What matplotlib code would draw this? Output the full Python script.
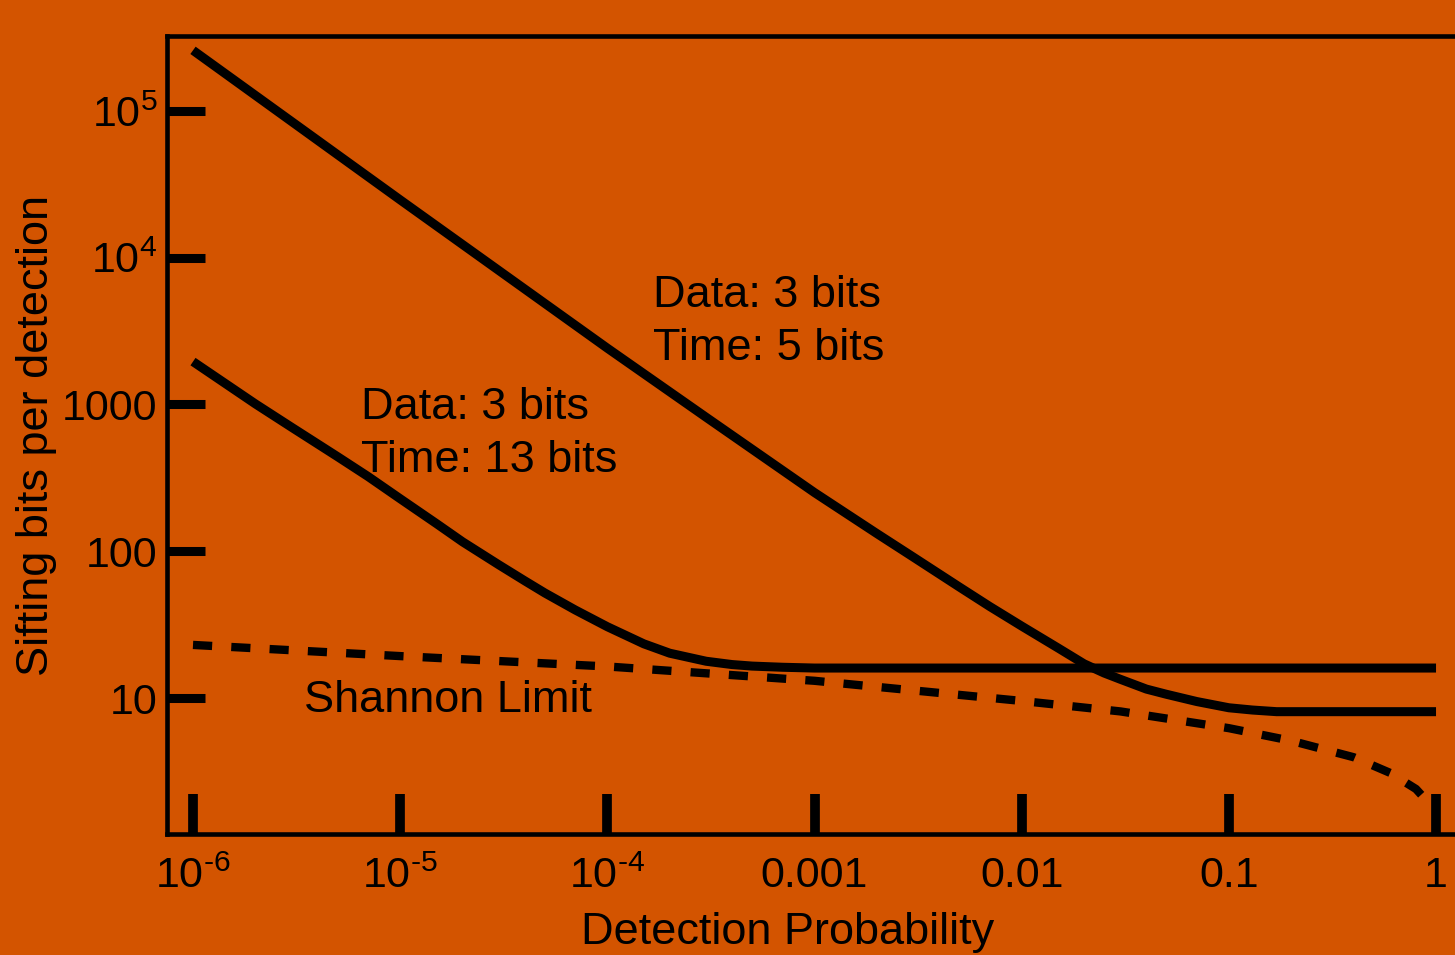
import matplotlib
matplotlib.use("Agg")
import matplotlib.pyplot as plt
from matplotlib.ticker import NullLocator

# values (log-log)
p_time5 = [1e-6, 1e-5, 1e-4, 3e-4, 1e-3, 2e-3, 3e-3, 5e-3, 7e-3, 1e-2,
           1.5e-2, 2e-2, 2.5e-2, 3e-2, 4e-2, 5e-2, 7e-2, 0.1, 0.13, 0.17, 0.25, 1.0]
bits_time5 = [259000, 24800, 2420, 818, 251, 132, 91.2, 57.1, 42.1, 30.9,
              21.9, 17.1, 14.8, 13.4, 11.5, 10.6, 9.46, 8.58, 8.28, 8.07, 8.07, 8.07]

p_time13 = [1e-6, 2e-6, 3e-6, 5e-6, 7e-6, 1e-5, 1.5e-5, 2e-5, 3e-5, 4e-5,
            5e-5, 7e-5, 1e-4, 1.5e-4, 2e-4, 3e-4, 4e-4, 5e-4, 7e-4, 1e-3, 1.0]
bits_time13 = [1960, 1010, 698, 440, 323, 228, 154, 116, 80.7, 62.8,
               51.9, 39.8, 30.6, 23.4, 20.2, 17.8, 16.9, 16.5, 16.2, 16.0, 16.0]

p_shannon = [1e-6, 1e-5, 1e-4, 1e-3, 1e-2, 3e-2, 0.1, 0.2, 0.4, 0.6, 0.8, 0.9, 1.0]
bits_shannon = [23.0, 19.3, 16.4, 13.1, 9.55, 8.1, 6.23, 5.11, 3.95, 3.09, 2.40, 2.0, 1.75]

x_ticks = [1e-6, 1e-5, 1e-4, 1e-3, 1e-2, 0.1, 1]
x_tick_labels = [r"$\mathregular{10^{\text{-6}}}$", r"$\mathregular{10^{\text{-5}}}$",
                 r"$\mathregular{10^{\text{-4}}}$", "0.001", "0.01", "0.1", "1"]
y_ticks = [10, 100, 1000, 1e4, 1e5]
y_tick_labels = ["10", "100", "1000", r"$\mathregular{10^{4}}$", r"$\mathregular{10^{5}}$"]

BG = "#D35400"

plt.rcParams["font.family"] = ["Liberation Sans", "DejaVu Sans"]
plt.rcParams["mathtext.fontset"] = "custom"
plt.rcParams["mathtext.rm"] = "Liberation Sans"

W, H = 1455, 955
fig = plt.figure(figsize=(W / 100, H / 100), dpi=100, facecolor=BG)

# axes box in pixels: left 167, top 36, bottom 834, right runs past the edge
ax_l, ax_r, ax_t, ax_b = 167, 1500, 36, 834
ax = fig.add_axes([ax_l / W, 1 - ax_b / H, (ax_r - ax_l) / W, (ax_b - ax_t) / H])
ax.set_facecolor(BG)
ax.set_xscale("log")
ax.set_yscale("log")
ax.set_xlim(10 ** -6.1255, 10 ** 0.3088)
ax.set_ylim(10 ** 0.0733, 10 ** 5.511)

ax.plot(p_time5, bits_time5, color="black", lw=6.5, solid_capstyle="butt",
        solid_joinstyle="round")
ax.plot(p_time13, bits_time13, color="black", lw=6.5, solid_capstyle="butt",
        solid_joinstyle="round")
ax.plot(p_shannon, bits_shannon, color="black", lw=6,
        linestyle=(0, (2.3, 2.3)), dash_capstyle="butt")

ax.set_xticks(x_ticks, labels=x_tick_labels)
ax.set_yticks(y_ticks, labels=y_tick_labels)
ax.xaxis.set_minor_locator(NullLocator())
ax.yaxis.set_minor_locator(NullLocator())
ax.tick_params(axis="x", direction="in", length=29, width=7, pad=16,
               labelsize=31, top=False, colors="black")
ax.tick_params(axis="y", direction="in", length=27, width=6.5, pad=7,
               labelsize=31, right=False, colors="black")

ax.spines["right"].set_visible(False)
for s in ["left", "bottom", "top"]:
    ax.spines[s].set_linewidth(3.3)
    ax.spines[s].set_color("black")

def to_ax(x, y):
    return (x - ax_l) / (ax_r - ax_l), (ax_b - y) / (ax_b - ax_t)

ax.set_xlabel("Detection Probability", fontsize=32.5)
ax.xaxis.set_label_coords(*to_ax(788, 912))
ax.set_ylabel("Sifting bits per detection", fontsize=32.5, va="center")
ax.yaxis.set_label_coords(to_ax(36, 0)[0], 0.5)

# annotation lines: (text, left px, baseline px)
notes = [
    ("Data: 3 bits", 653, 307),
    ("Time: 5 bits", 653, 360),
    ("Data: 3 bits", 361, 419),
    ("Time: 13 bits", 361, 472),
    ("Shannon Limit", 304, 712),
]
for txt, x, y in notes:
    ax.text(*to_ax(x, y), txt, transform=ax.transAxes, fontsize=32.5,
            ha="left", va="baseline", color="black")

fig.savefig("out.png", dpi=100, facecolor=BG)
